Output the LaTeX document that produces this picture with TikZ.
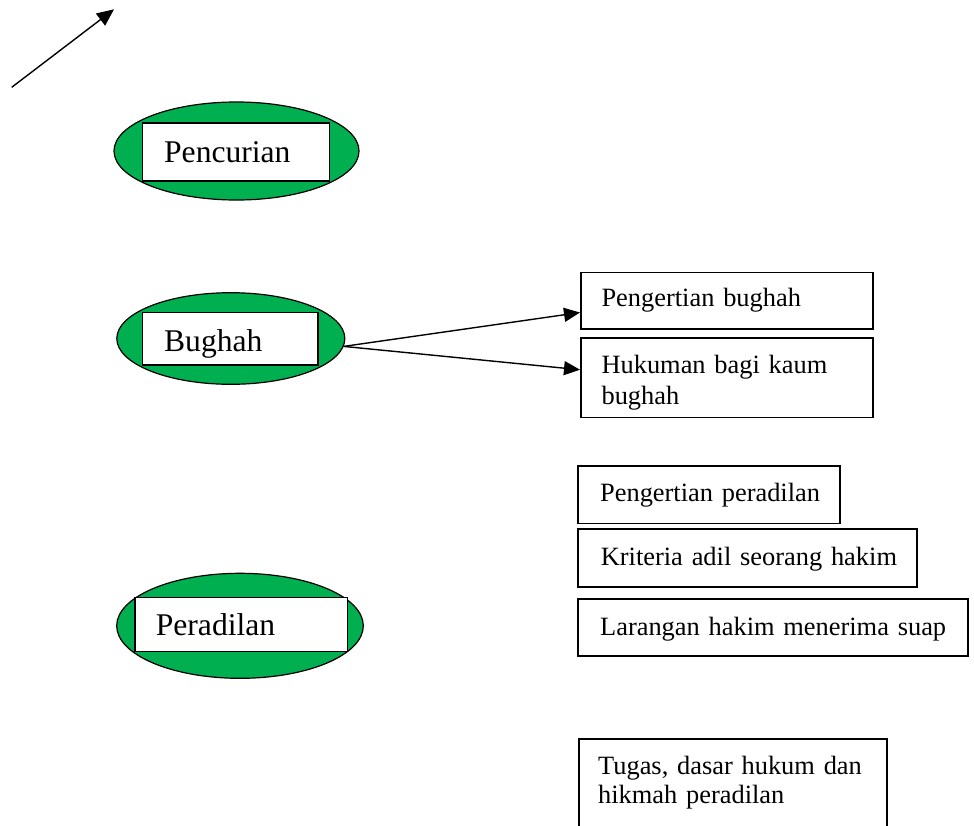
\documentclass[tikz,border=0pt]{standalone}
\usepackage{fontspec}
\setmainfont{Liberation Serif}
\usetikzlibrary{shapes.geometric,arrows.meta,calc}
\definecolor{wgreen}{HTML}{00B050}
\begin{document}
\begin{tikzpicture}[x=1pt,y=-1pt,
  oval/.style={ellipse,draw,line width=1.2pt,fill=wgreen,inner sep=0pt},
  bigbox/.style={rectangle,draw,line width=1.7pt,fill=white,anchor=north west,align=left,inner ysep=0pt,font=\fontsize{31.6}{38}\selectfont},
  smallbox/.style={rectangle,draw,line width=1.7pt,fill=white,anchor=north west,align=left,inner ysep=0pt,font=\fontsize{26.4}{31}\selectfont},
  arr/.style={line width=1.4pt,-{Triangle[length=16pt,width=14pt]}}
]
\useasboundingbox (0,0) rectangle (974,825);
\clip (0,0) rectangle (974,825);

% top-left arrow
\coordinate (a0) at (11.7,87.3);
\coordinate (a1) at (114,9.3);
\draw[arr,-{Triangle[length=17pt,width=15pt]}] (a0) -- (a1);

% ovals with labels
\node[oval,minimum width=245pt,minimum height=98pt] (penO) at (236.5,151) {};
\node[bigbox,inner xsep=21.6pt,text width=143.8pt,text height=39.7pt,text depth=18.3pt] (pen) at (141.7,122) {\mbox{Pencurian}};

\node[oval,minimum width=228pt,minimum height=91.6pt] (bugO) at (230.8,338.5) {};
\node[bigbox,inner xsep=21.6pt,text width=132.4pt,text height=39.3pt,text depth=13pt] (bug) at (141.7,311.7) {\mbox{Bughah}};

\node[oval,minimum width=246.6pt,minimum height=105pt] (perO) at (240,625.8) {};
\node[bigbox,inner xsep=20.7pt,text width=171pt,text height=38.3pt,text depth=15.7pt] (per) at (134.3,596.7) {\mbox{Peradilan}};

% right boxes
\node[smallbox,inner xsep=20.7pt,text width=250.9pt,text height=34.3pt,text depth=22.3pt] (pb) at (580,271.7) {\mbox{Pengertian bughah}};
\node[smallbox,font=\fontsize{26.4}{31.6}\selectfont,inner xsep=20.7pt,text width=250.9pt,text height=34.9pt,text depth=44.5pt] (hb) at (580,337.3) {\mbox{Hukuman bagi kaum}\\\mbox{bughah}};
\node[smallbox,inner xsep=22pt,text width=218pt,text height=35.7pt,text depth=22pt] (pp) at (577.3,465) {\mbox{Pengertian peradilan}};
\node[smallbox,inner xsep=22.7pt,text width=293.3pt,text height=36.7pt,text depth=21pt] (ka) at (577.3,528.3) {\mbox{Kriteria adil seorang hakim}};
\node[smallbox,inner xsep=22pt,text width=346pt,text height=36.7pt,text depth=20pt] (lh) at (577.3,598.3) {\mbox{Larangan hakim menerima suap}};
\node[smallbox,font=\fontsize{26.4}{29}\selectfont,inner xsep=19pt,text width=269.7pt,text height=35pt,text depth=120pt] (td) at (578.3,738.3) {\mbox{Tugas, dasar hukum dan}\\\mbox{hikmah peradilan}};

% connectors
\draw[arr] (bugO.-4) -- ($(pb.south west)!0.3!(pb.north west)$);
\draw[arr] (bugO.-4) -- ($(hb.north west)!0.4!(hb.south west)$);
\end{tikzpicture}
\end{document}
